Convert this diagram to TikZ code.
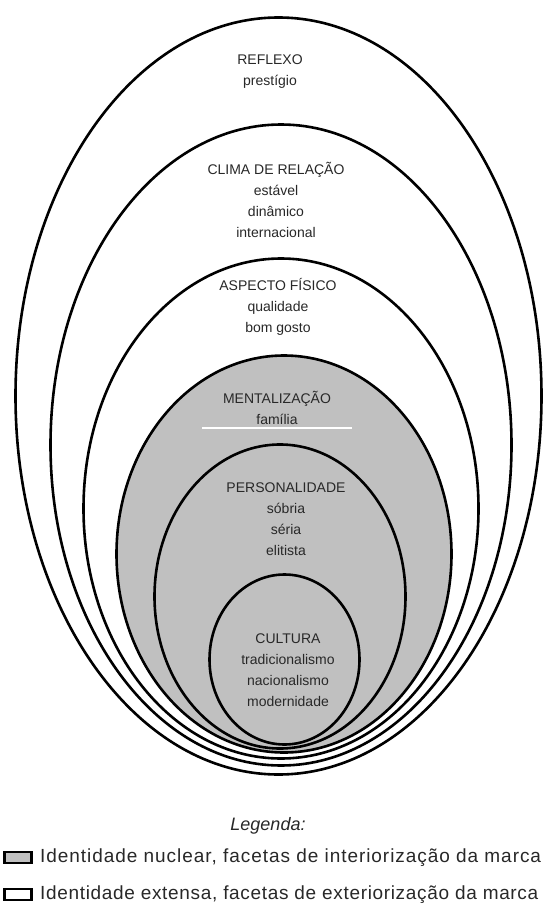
\documentclass[tikz,border=0pt]{standalone}
\usepackage{fontspec}
\setmainfont{Liberation Sans}
\definecolor{nucleo}{RGB}{192,192,192}
\definecolor{escrita}{RGB}{40,40,40}
\tikzset{
  anel/.style={draw=black, line width=2.6pt},
  faceta/.style={align=center, inner sep=0pt, text=escrita,
    font=\fontsize{14}{21}\selectfont},
  legtexto/.style={anchor=west, inner sep=0pt, text=escrita,
    font=\fontsize{19}{20}\selectfont\addfontfeature{LetterSpace=5}},
  legcaixa/.style={draw=black, line width=2.6pt}
}
\begin{document}
\begin{tikzpicture}[x=1pt, y=-1pt]
  \useasboundingbox (0,0) rectangle (544,912);
  \fill[white] (0,0) rectangle (544,912);

  % identidade extensa (white rings)
  \path[anel, fill=white] (278.5,396) ellipse [x radius=263pt, y radius=378.5pt];
  \path[anel, fill=white] (281,445) ellipse [x radius=230.5pt, y radius=320.5pt];
  \path[anel, fill=white] (281,508.5) ellipse [x radius=197.5pt, y radius=250pt];
  % identidade nuclear (grey rings)
  \path[anel, fill=nucleo] (284,554) ellipse [x radius=167.5pt, y radius=198.5pt];
  \path[anel, fill=nucleo] (280,596.5) ellipse [x radius=125.5pt, y radius=152pt];
  \path[anel, fill=nucleo] (284.5,659.5) ellipse [x radius=75pt, y radius=85pt];

  % white separator below mentalizacao
  \coordinate (sepA) at (202,428);
  \coordinate (sepB) at (352,428);
  \draw[white, line width=1.5pt] (sepA) -- (sepB);

  % facets
  \node[faceta] (reflexo)  at (270,71.5)  {REFLEXO\\prestígio};
  \node[faceta] (clima)    at (276,200)   {CLIMA DE RELAÇÃO\\estável\\dinâmico\\internacional};
  \node[faceta] (aspecto)  at (278,306.5) {ASPECTO FÍSICO\\qualidade\\bom gosto};
  \node[faceta] (mental)   at (277,408)   {MENTALIZAÇÃO\\família};
  \node[faceta] (persona)  at (286,519.5) {PERSONALIDADE\\sóbria\\séria\\elitista};
  \node[faceta] (cultura)  at (288,670)   {CULTURA\\tradicionalismo\\nacionalismo\\modernidade};

  % legend
  \node[text=escrita, font=\fontsize{18}{20}\selectfont\itshape] (legenda) at (268,826) {Legenda:};
  \draw[legcaixa, fill=nucleo] (4.5,852) rectangle (31.5,863);
  \node[legtexto] (nuclear) at (40,858) {Identidade nuclear, facetas de interiorização da marca};
  \draw[legcaixa, fill=white] (4.5,889) rectangle (31.5,900);
  \node[legtexto, font=\fontsize{19}{20}\selectfont\addfontfeature{LetterSpace=3.5}] (extensa) at (40,895) {Identidade extensa, facetas de exteriorização da marca};
\end{tikzpicture}
\end{document}
